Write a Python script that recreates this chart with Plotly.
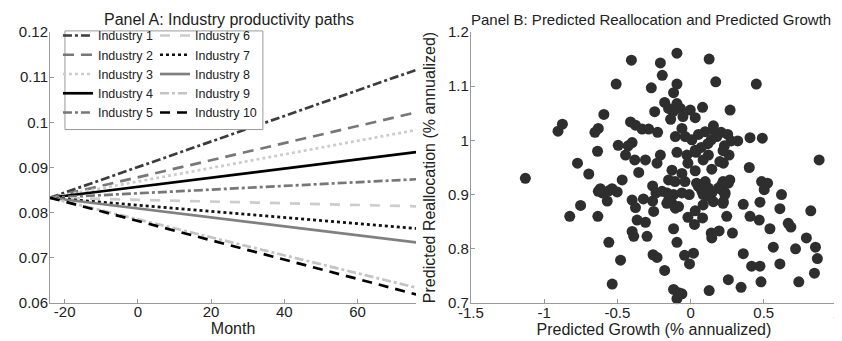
import plotly.graph_objects as go

# ---------------- Panel A data ----------------
months = [-24, 76]
start_value = 0.0833
industries = ["Industry 1", "Industry 2", "Industry 3", "Industry 4", "Industry 5",
              "Industry 6", "Industry 7", "Industry 8", "Industry 9", "Industry 10"]
end_values = [0.1116, 0.1022, 0.0983, 0.0934, 0.0874,
              0.0814, 0.0765, 0.0734, 0.0634, 0.0619]
line_colors = ["#3c3c3c", "#777777", "#cccccc", "#000000", "#777777",
               "#cccccc", "#111111", "#808080", "#c4c4c4", "#000000"]
line_dashes = ["dashdot", "11px,7px", "dot", "solid", "dashdot",
               "10px,10px", "dot", "solid", "dashdot", "10px,7px"]

# ---------------- Panel B data ----------------
pred_growth = [
    -0.093, -0.404, -0.206, 0.127, -0.193, -0.508, -0.268, -0.093, 0.172, 0.449,
    -0.116, -0.177, -0.093, -0.150, -0.070, -0.002, 0.082, -0.245, -0.120, -0.052,
    0.032, 0.270, -0.592, -0.136, -0.410, -0.376, -0.875, -0.905, -0.630, -0.653,
    -0.331, -0.286, -0.225, -0.059, -0.104, -0.036, 0.009, 0.054, 0.100, 0.156,
    0.168, 0.209, 0.254, 0.179, 0.141, 0.277, 0.322, 0.406, 0.490, -0.494,
    -0.426, -0.399, -0.444, -0.381, -0.308, -0.206, -0.229, -0.635, -0.772, -0.093,
    -0.025, 0.032, 0.073, 0.118, 0.122, -0.018, 0.032, 0.145, 0.224, 0.263,
    0.231, 0.401, 0.878, -0.695, -0.354, -0.127, -0.059, -1.128,
    -0.467, -0.150, 0.100, 0.485, 0.526, -0.630, -0.603, -0.558, -0.501, -0.569,
    -0.259, -0.161, -0.116, -0.059, -0.009, 0.054, 0.077, 0.122, 0.145, 0.111,
    0.156, 0.190, 0.213, 0.236, 0.258, 0.224, 0.503, 0.621, -0.399, -0.376,
    -0.322, -0.259, -0.236, -0.195, -0.150, -0.127, -0.104, -0.082, -0.252, -0.825,
    -0.751, -0.633, -0.365, -0.308, -0.018, 0.032, 0.027, 0.082, 0.247, 0.360,
    0.406, 0.469, 0.474, 0.542, 0.610, 0.667, 0.685, 0.821, 0.791, -0.399,
    -0.388, -0.297, -0.116, 0.141, 0.145, 0.195, 0.286, -0.558, -0.093, 0.565,
    0.717, 0.853, 0.866, -0.256, -0.229, -0.041, 0.020, -0.007, 0.360, -0.478,
    -0.177, 0.417, 0.474, 0.610, 0.846, -0.535, 0.258, 0.345, 0.481, 0.739,
    -0.116, -0.082, -0.059, -0.093, 0.127,
    0.037, 0.222, 0.086, 0.200, -0.106, -0.038, 0.041, 0.222, 0.268, 0.211,
    0.086, 0.234, -0.162, 0.086, 0.222, -0.616, -0.536,
]
pred_realloc = [
    1.161, 1.148, 1.143, 1.150, 1.120, 1.104, 1.097, 1.104, 1.108, 1.104,
    1.088, 1.070, 1.068, 1.059, 1.059, 1.056, 1.061, 1.053, 1.053, 1.044,
    1.042, 1.056, 1.048, 1.039, 1.034, 1.028, 1.030, 1.017, 1.022, 1.015,
    1.021, 1.021, 1.015, 1.022, 1.007, 1.007, 1.001, 1.011, 1.016, 1.027,
    1.016, 1.015, 1.011, 1.007, 1.001, 0.999, 0.999, 1.005, 1.004, 0.991,
    0.990, 0.996, 0.973, 0.964, 0.964, 0.973, 0.958, 0.980, 0.958, 0.978,
    0.973, 0.982, 0.987, 0.994, 0.973, 0.958, 0.944, 0.947, 0.958, 0.973,
    0.990, 0.950, 0.964, 0.938, 0.941, 0.945, 0.939, 0.930,
    0.927, 0.927, 0.924, 0.924, 0.921, 0.906, 0.903, 0.907, 0.905, 0.888,
    0.916, 0.903, 0.900, 0.903, 0.900, 0.915, 0.906, 0.912, 0.903, 0.897,
    0.887, 0.912, 0.918, 0.903, 0.921, 0.887, 0.909, 0.900, 0.890, 0.876,
    0.892, 0.888, 0.903, 0.906, 0.890, 0.884, 0.875, 0.878, 0.869, 0.860,
    0.880, 0.860, 0.853, 0.849, 0.858, 0.870, 0.845, 0.857, 0.860, 0.882,
    0.860, 0.853, 0.886, 0.837, 0.874, 0.847, 0.840, 0.870, 0.820, 0.832,
    0.823, 0.823, 0.837, 0.829, 0.820, 0.833, 0.829, 0.812, 0.812, 0.803,
    0.800, 0.803, 0.782, 0.789, 0.784, 0.788, 0.792, 0.772, 0.791, 0.779,
    0.760, 0.768, 0.768, 0.772, 0.755, 0.735, 0.743, 0.729, 0.739, 0.739,
    0.725, 0.719, 0.717, 0.708, 0.723,
    0.978, 0.981, 0.964, 0.961, 0.924, 0.924, 0.921, 0.924, 0.927, 0.909,
    0.900, 0.900, 0.884, 0.881, 0.884, 0.911, 0.911,
]

ticks_a_x = [-20, 0, 20, 40, 60]
ticks_a_y = [0.06, 0.07, 0.08, 0.09, 0.1, 0.11, 0.12]
ticks_b_x = [-1.5, -1, -0.5, 0, 0.5, 1]
ticks_b_y = [0.7, 0.8, 0.9, 1.0, 1.1, 1.2]

FONT = "Liberation Sans, Arial, Helvetica, sans-serif"

fig = go.Figure()

for i, name in enumerate(industries):
    fig.add_trace(go.Scatter(
        x=months, y=[start_value, end_values[i]], mode="lines", name=name,
        line=dict(color=line_colors[i], width=2.7, dash=line_dashes[i]),
        xaxis="x", yaxis="y",
        legend="legend" if i < 5 else "legend2",
    ))

fig.add_trace(go.Scatter(
    x=pred_growth, y=pred_realloc, mode="markers", showlegend=False,
    marker=dict(color="#2e2e2e", size=11, line=dict(width=0)),
    xaxis="x2", yaxis="y2", cliponaxis=False,
))


def fmt(v):
    return "%g" % v


axis_common = dict(
    showline=True, linecolor="#9a9a9a", linewidth=1, ticks="inside", ticklen=4,
    tickcolor="#9a9a9a", showgrid=False, zeroline=False,
    tickfont=dict(family=FONT, size=15, color="#222222"),
)

fig.update_layout(
    width=842, height=341,
    margin=dict(l=42, r=9, t=24, b=46),
    paper_bgcolor="white", plot_bgcolor="white",
    font=dict(family=FONT, color="#222222"),
    xaxis=dict(domain=[0, 0.4652], range=[-24, 76], tickvals=ticks_a_x,
               ticktext=[fmt(v) for v in ticks_a_x], anchor="y", ticklabelstandoff=-5,
               title=dict(text="Month", font=dict(size=16), standoff=3), **axis_common),
    yaxis=dict(range=[0.06, 0.12], tickvals=ticks_a_y,
               ticktext=[fmt(v) for v in ticks_a_y], ticklabelstandoff=-2,
               anchor="x", **axis_common),
    xaxis2=dict(domain=[0.5348, 1], range=[-1.5, 1], tickvals=ticks_b_x,
                ticktext=[fmt(v) for v in ticks_b_x], anchor="y2", ticklabelstandoff=-4,
                title=dict(text="Predicted Growth (% annualized)", font=dict(size=16), standoff=2),
                **axis_common),
    yaxis2=dict(range=[0.7, 1.2], tickvals=ticks_b_y,
                ticktext=[fmt(v) for v in ticks_b_y], anchor="x2", ticklabelstandoff=-2,
                title=dict(text="Predicted Reallocation (% annualized)", font=dict(size=16), standoff=8),
                **axis_common),
    legend=dict(x=0.0101, y=1.041, xanchor="left", yanchor="top",
                bgcolor="rgba(0,0,0,0)", borderwidth=0,
                font=dict(family=FONT, size=12.5, color="#222222"), tracegroupgap=0),
    legend2=dict(x=0.1334, y=1.041, xanchor="left", yanchor="top",
                 bgcolor="rgba(0,0,0,0)", borderwidth=0,
                 font=dict(family=FONT, size=12.5, color="#222222"), tracegroupgap=0),
    shapes=[dict(type="rect", xref="paper", yref="paper",
                 x0=0.019, x1=0.2705, y0=1.004, y1=0.64,
                 line=dict(color="#9a9a9a", width=1), fillcolor="white", layer="above")],
    annotations=[
        dict(text="Panel A: Industry productivity paths", xref="paper", yref="paper",
             x=0.2276, y=1.0, xanchor="center", yanchor="bottom", yshift=2, showarrow=False,
             font=dict(family=FONT, size=16, color="#222222")),
        dict(text="Panel B: Predicted Reallocation and Predicted Growth", xref="paper", yref="paper",
             x=0.7642, y=1.0, xanchor="center", yanchor="bottom", yshift=2, showarrow=False,
             font=dict(family=FONT, size=15, color="#222222")),
    ],
)

fig.write_html("out.html")
